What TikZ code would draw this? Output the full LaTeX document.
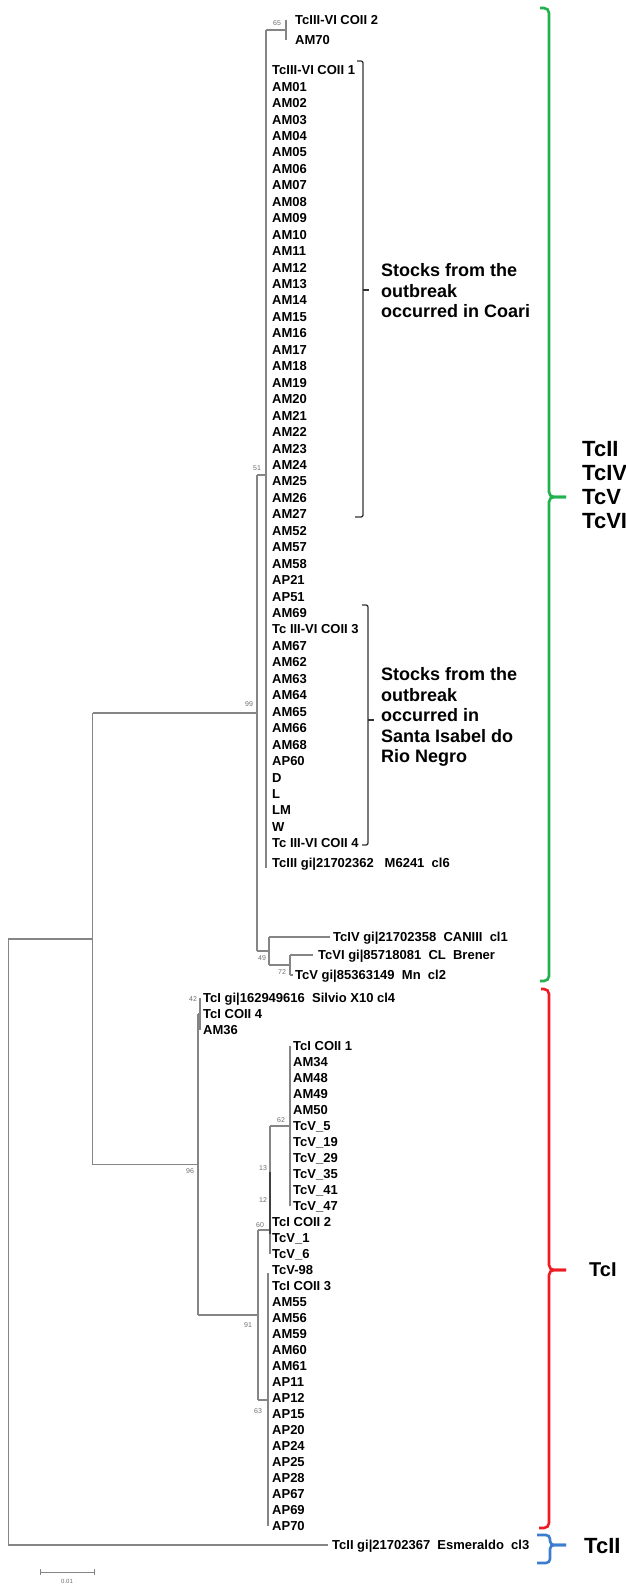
\documentclass[tikz,border=0pt]{standalone}
\usepackage{fontspec}
\setmainfont{Liberation Sans}
\definecolor{treegray}{HTML}{858585}
\definecolor{bsgray}{HTML}{6E6E6E}
\definecolor{grn}{HTML}{22B14C}
\definecolor{rd}{HTML}{ED1C24}
\definecolor{bl}{HTML}{3C7DD0}
\begin{document}
\begin{tikzpicture}[x=1pt,y=-1pt,
  tree/.style={draw=treegray, line width=1.2pt},
  dark/.style={draw=black!75, line width=1.2pt},
  tx/.style={anchor=west, inner sep=0pt, text height=9.3pt, text depth=0pt, font=\bfseries\fontsize{13}{13}\selectfont},
  bs/.style={inner sep=0pt, text=bsgray, font=\fontsize{7}{7}\selectfont},
  grp/.style={draw=black!80, line width=1.3pt, rounded corners=2pt},
  note/.style={anchor=west, inner sep=0pt, align=left, font=\bfseries\fontsize{18}{20.5}\selectfont},
  big/.style={anchor=west, inner sep=0pt, align=left, font=\bfseries\fontsize{22}{24}\selectfont},
  brace/.style={line width=2.6pt, rounded corners=5pt},
]
\useasboundingbox (0,0) rectangle (625,1587);
\def\ys{998}\def\sp{16}

% ---------- taxa: upper clade ----------
\node[tx] (c2) at (295,20) {TcIII-VI COII 2};
\node[tx] (am70) at (295,40) {AM70};
\foreach \t [count=\i from 0] in {TcIII-VI COII 1, AM01, AM02, AM03, AM04, AM05, AM06, AM07, AM08, AM09, AM10, AM11, AM12, AM13, AM14, AM15, AM16, AM17, AM18, AM19, AM20, AM21, AM22, AM23, AM24, AM25, AM26, AM27, AM52, AM57, AM58, AP21, AP51, AM69, Tc III-VI COII 3, AM67, AM62, AM63, AM64, AM65, AM66, AM68, AP60, D, L, LM, W, Tc III-VI COII 4}
  \node[tx] (a\i) at (272,{70+16.45*\i}) {\t};
\node[tx] (tc3) at (272,863) {TcIII gi|21702362~~~M6241~~cl6};
\node[tx] (tc4) at (333,937) {TcIV gi|21702358~~CANIII~~cl1};
\node[tx] (tc6) at (318,955) {TcVI gi|85718081~~CL~~Brener};
\node[tx] (tc5) at (295,975) {TcV gi|85363149~~Mn~~cl2};

% ---------- taxa: TcI clade ----------
\foreach \t [count=\i from 0] in {TcI gi|162949616~~Silvio X10 cl4, TcI COII 4, AM36}
  \node[tx] (b\i) at (203,{\ys+\sp*\i}) {\t};
\foreach \t [count=\i from 3] in {TcI COII 1, AM34, AM48, AM49, AM50, TcV\_5, TcV\_19, TcV\_29, TcV\_35, TcV\_41, TcV\_47}
  \node[tx] (b\i) at (293,{\ys+\sp*\i}) {\t};
\foreach \t [count=\i from 14] in {TcI COII 2, TcV\_1, TcV\_6, TcV-98}
  \node[tx] (b\i) at (272,{\ys+\sp*\i}) {\t};
\foreach \t [count=\i from 18] in {TcI COII 3, AM55, AM56, AM59, AM60, AM61, AP11, AP12, AP15, AP20, AP24, AP25, AP28, AP67, AP69, AP70}
  \node[tx] (b\i) at (272,{\ys+\sp*\i}) {\t};
\node[tx] (tc2) at (332,1545) {TcII gi|21702367~~Esmeraldo~~cl3};

% ---------- internal nodes ----------
\coordinate (n65t) at (286,20);  \coordinate (n65b) at (286,40);  \coordinate (n65) at (286,30);
\coordinate (n51t) at (266,30);  \coordinate (n51b) at (266,868); \coordinate (n51) at (266,475);
\coordinate (n99t) at (257,475); \coordinate (n99b) at (257,951); \coordinate (n99) at (257,713);
\coordinate (n49t) at (269,937); \coordinate (n49b) at (269,965); \coordinate (n49) at (269,951);
\coordinate (n72t) at (290,955); \coordinate (n72b) at (290,975); \coordinate (n72) at (290,965);
\coordinate (nAt) at (92.7,713); \coordinate (nAb) at (92.7,1164.5); \coordinate (nA) at (92.7,939);
\coordinate (rt) at (8.3,939);   \coordinate (rb) at (8.3,1545);
\coordinate (n96t) at (198,1014); \coordinate (n96b) at (198,1315); \coordinate (n96) at (198,1164.5);
\coordinate (n42t) at (200,998); \coordinate (n42b) at (200,1030); \coordinate (n42) at (200,1014);
\coordinate (n91t) at (258,1230); \coordinate (n91b) at (258,1400); \coordinate (n91) at (258,1315);
\coordinate (n60t) at (270,1126); \coordinate (n60b) at (270,1254); \coordinate (n60) at (270,1230);
\coordinate (n13) at (270,1126);
\coordinate (n62t) at (290,1046); \coordinate (n62b) at (290,1206); \coordinate (n62) at (290,1126);
\coordinate (n63t) at (268,1273); \coordinate (n63b) at (268,1526); \coordinate (n63) at (268,1400);
\coordinate (e4) at (330,937); \coordinate (e6) at (313,955); \coordinate (e5) at (293,975);
\coordinate (e2) at (328,1545);

% ---------- branches ----------
\draw[tree] (n65t) -- (n65b);  \draw[tree] (n51 |- n65) -- (n65);
\draw[tree] (n51t) -- (n51b);  \draw[tree] (n99t) -- (n51);
\draw[tree] (n99t) -- (n99b);  \draw[tree] (nA |- n99) -- (n99);
\draw[tree] (n49t) -- (n49b);  \draw[tree] (n99b) -- (n49);
\draw[tree] (n49t) -- (e4);
\draw[tree] (n72t) -- (n72b);  \draw[tree] (n49b) -- (n72);
\draw[tree] (n72t) -- (e6);    \draw[tree] (n72b) -- (e5);
\draw[tree] (nAt) -- (nAb);    \draw[tree] (rt) -- (nA);
\draw[tree] (rt) -- (rb);      \draw[tree] (rb) -- (e2);
\draw[tree] (n96t) -- (n96b);  \draw[tree] (nAb) -- (n96);
\draw[tree] (n42t) -- (n42b);  \draw[tree] (n96t) -- (n42);
\draw[tree] (n91t) -- (n91b);  \draw[tree] (n96b) -- (n91);
\draw[tree] (n60t) -- (n60b);  \draw[tree] (n91t) -- (n60);
\draw[dark] (270,1172) -- (270,1234);
\draw[tree] (n62t) -- (n62b);  \draw[tree] (n13) -- (n62);
\draw[tree] (n63t) -- (n63b);  \draw[tree] (n91b) -- (n63);

% ---------- bootstrap values ----------
\node[bs] (v65) at (277,23) {65};
\node[bs] (v51) at (257,468) {51};
\node[bs] (v99) at (249,704) {99};
\node[bs] (v49) at (262,958) {49};
\node[bs] (v72) at (282,972) {72};
\node[bs] (v42) at (193,999) {42};
\node[bs] (v96) at (190,1171) {96};
\node[bs] (v62) at (281,1120) {62};
\node[bs] (v13) at (263,1168) {13};
\node[bs] (v12) at (263,1200) {12};
\node[bs] (v60) at (260,1225) {60};
\node[bs] (v91) at (248,1325) {91};
\node[bs] (v63) at (258,1411) {63};

% ---------- outbreak brackets ----------
\draw[grp] (357,61) -- (363,61) -- (363,517) -- (355,517);
\draw[grp] (363,290) -- (369,290);
\node[note] (coari) at (381,291) {Stocks from the\\outbreak\\occurred in Coari};
\draw[grp] (362,605) -- (368,605) -- (368,845) -- (362,845);
\draw[grp] (368,720) -- (374,720);
\node[note] (sirn) at (381,717) {Stocks from the\\outbreak\\occurred in\\Santa Isabel do\\Rio Negro};

% ---------- DTU braces ----------
\draw[brace, draw=grn] (540,8) -- (549,8) -- (549,497) -- (566,497);
\draw[brace, draw=grn] (566,497) -- (549,497) -- (549,981) -- (540,981);
\node[big] (dtu1) at (582,485) {TcII\\TcIV\\TcV\\TcVI};
\draw[brace, draw=rd] (541,989) -- (549,989) -- (549,1270) -- (566,1270);
\draw[brace, draw=rd] (566,1270) -- (549,1270) -- (549,1528) -- (539,1528);
\node[big, font=\bfseries\fontsize{20}{24}\selectfont] (dtu2) at (589,1270) {TcI};
\draw[brace, draw=bl, rounded corners=4pt] (537,1535) -- (550,1535) -- (550,1545) -- (566,1545);
\draw[brace, draw=bl, rounded corners=4pt] (566,1545) -- (550,1545) -- (550,1563) -- (537,1563);
\node[big] (dtu3) at (584,1546) {TcII};

% ---------- scale bar ----------
\coordinate (s1) at (40,1572); \coordinate (s2) at (94,1572);
\draw[tree, line width=0.9pt] (s1) -- (s2);
\draw[tree, line width=0.9pt] ([yshift=3pt]s1) -- ([yshift=-3pt]s1);
\draw[tree, line width=0.9pt] ([yshift=3pt]s2) -- ([yshift=-3pt]s2);
\node[bs, font=\fontsize{6}{6}\selectfont] (sl) at (67,1581) {0.01};
\end{tikzpicture}
\end{document}
